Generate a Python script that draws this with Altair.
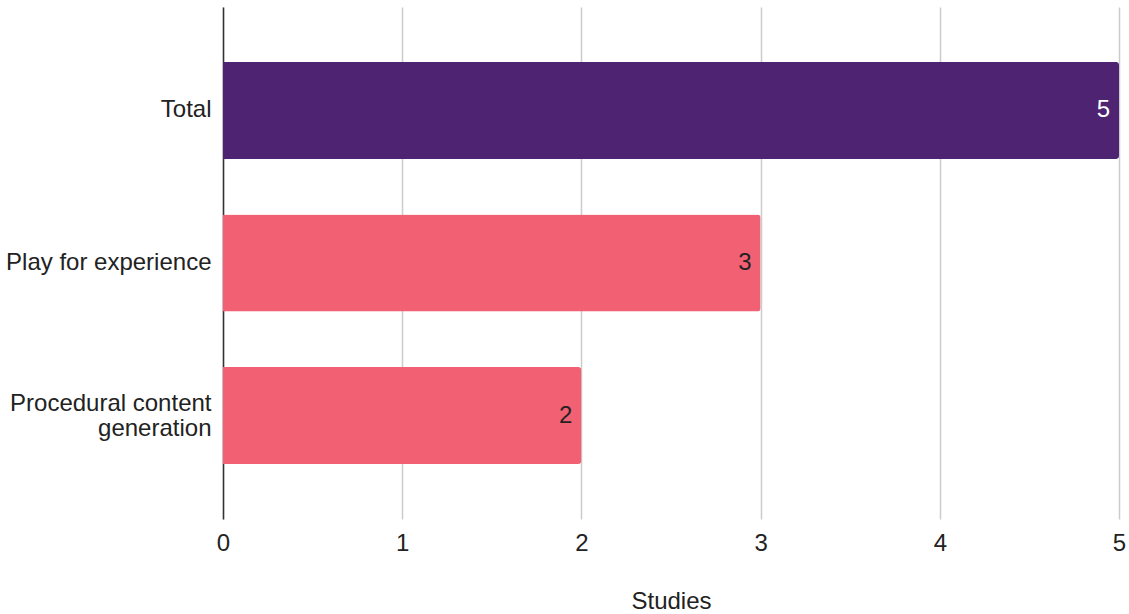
import altair as alt
import pandas as pd

categories = ["Total", "Play for experience", "Procedural content generation"]
values = [5, 3, 2]
groups = ["total", "part", "part"]
label_colors = ["white", "dark", "dark"]

df = pd.DataFrame({"cat": categories, "val": values, "grp": groups, "lc": label_colors})

FONT = "Liberation Sans"
FS = 24

y_enc = alt.Y(
    "cat:N",
    sort=categories,
    title=None,
    scale=alt.Scale(paddingInner=0.364, paddingOuter=0.36),
    axis=alt.Axis(
        domain=True, domainColor="#333333", domainWidth=1.5,
        ticks=False, labelPadding=12, labelFontSize=FS, labelFont=FONT,
        labelColor="#222222", labelLineHeight=25, labelLimit=300,
        labelExpr="datum.value == 'Procedural content generation' ? ['Procedural content', 'generation'] : datum.value",
        labelOffset={"condition": {"test": "datum.value == 'Procedural content generation'", "value": -12}, "value": 0},
    ),
)

x_enc = alt.X(
    "val:Q",
    title="Studies",
    scale=alt.Scale(domain=[0, 5], nice=False),
    axis=alt.Axis(
        values=[0, 1, 2, 3, 4, 5], format="d", domain=False, ticks=False,
        grid=True, gridColor="#cccccc", gridWidth=1.5, labelFlush=False,
        labelPadding=12, labelFontSize=FS, labelFont=FONT, labelColor="#222222",
        titleFontSize=FS, titleFont=FONT, titleFontWeight="normal",
        titleColor="#222222", titlePadding=34,
    ),
)

base = alt.Chart(df).encode(x=x_enc, y=y_enc)

bars = base.mark_bar(cornerRadiusEnd=3).encode(
    color=alt.Color("grp:N", scale=alt.Scale(domain=["total", "part"], range=["#4d2372", "#f26073"]), legend=None),
)

text = base.mark_text(align="right", baseline="middle", dx=-9, fontSize=FS, font=FONT).encode(
    text=alt.Text("val:Q"),
    color=alt.condition("datum.lc == 'white'", alt.value("#ffffff"), alt.value("#222222")),
)

chart = (bars + text).properties(
    width=896,
    height=512,
    autosize=alt.AutoSizeParams(type="none"),
    padding={"left": 223, "top": 7, "right": 10, "bottom": 95},
).configure_view(stroke=None)

chart.save("out.html", embed_options={"renderer": "svg", "actions": False})
